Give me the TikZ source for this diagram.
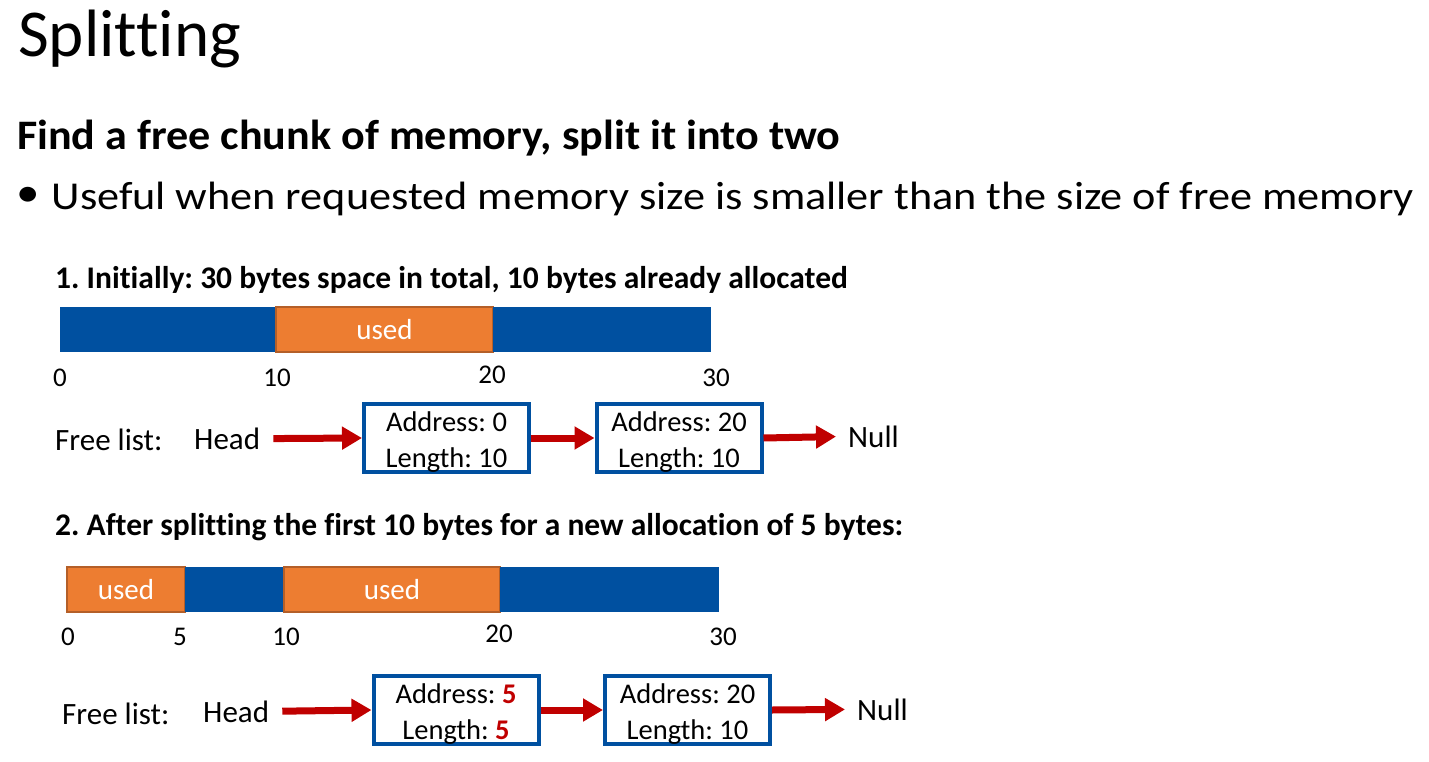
\documentclass[tikz,border=0pt]{standalone}
\usepackage{fontspec}
\setmainfont{Carlito}[Ligatures={NoCommon,NoContextual}]
\newfontfamily\headfont{Carlito}[Ligatures={NoCommon,NoContextual},FakeStretch=1.05]
\newfontfamily\bulletfont{Carlito}[Ligatures={NoCommon,NoContextual},FakeStretch=1.12]
\usetikzlibrary{arrows.meta}

\definecolor{memblue}{RGB}{0,80,160}
\definecolor{memorange}{RGB}{237,125,49}
\definecolor{orangeedge}{RGB}{180,95,40}
\definecolor{linkred}{RGB}{192,0,0}

\newcommand{\fs}[1]{\fontsize{#1}{#1}\selectfont}
% taller first line keeps the two rows of a list box slightly low
\newcommand{\boxstrut}{\rule{0pt}{27pt}}

\begin{document}
\frenchspacing
\begin{tikzpicture}[x=1pt,y=-1pt,
  seg/.style={inner sep=0pt, outer sep=0pt, anchor=north west,
    minimum height=45pt, text=white, font=\fs{29}},
  freeseg/.style={seg, fill=memblue},
  usedseg/.style={seg, fill=memorange, draw=orangeedge, line width=1.5pt},
  tick/.style={anchor=base, inner sep=0pt, font=\fs{27}},
  label/.style={anchor=base west, inner sep=0pt, font=\fs{31}},
  steplabel/.style={anchor=base west, inner sep=0pt, font=\bfseries\fs{31.5}},
  listbox/.style={draw=memblue, line width=4pt, minimum width=165pt,
    minimum height=68pt, align=center, inner sep=0pt,
    font=\fontsize{28.5}{36}\selectfont},
  link/.style={draw=linkred, line width=7pt,
    -{Triangle[length=20pt,width=22pt]}},
]
\useasboundingbox (0,0) rectangle (1429,762);

% headings
\node[anchor=base west, inner sep=0pt, font=\fs{67}] (title) at (18,57) {Splitting};
\node[anchor=base west, inner sep=0pt, font=\headfont\bfseries\fs{42}] (heading) at (17,149.3)
  {Find a free chunk of memory, split it into two};
\node[anchor=base west, inner sep=0pt, font=\bulletfont\fs{39.5}] (bullet) at (16,210)
  {{\fs{42}\raisebox{3pt}{\textbullet}}\hspace{12pt}Useful when requested memory size is smaller than the size of free memory};

% ---- step 1 ----
\node[steplabel] (s1) at (55,288)
  {1. Initially: 30 bytes space in total, 10 bytes already allocated};
\node[freeseg, minimum width=216pt] (a1) at (60,307) {};
\node[usedseg, minimum width=217pt] (a2) at (276,307) {used};
\node[freeseg, minimum width=218pt] (a3) at (493,307) {};

\node[tick] (t10) at (60,386) {0};
\node[tick] (t11) at (277,386) {10};
\node[tick] (t12) at (492,383) {20};
\node[tick] (t13) at (716,386) {30};

\node[label] (fl1) at (55,450) {Free list:};
\node[label] (head1) at (194,449.3) {Head};
\node[listbox] (b11) at (446.5,438) {\boxstrut Address: 0\\Length: 10};
\node[listbox] (b12) at (679,438) {\boxstrut Address: 20\\Length: 10};
\node[label] (null1) at (848,447) {Null};

\draw[link, shorten <=13pt] (head1.east) -- (b11.west);
\draw[link] (b11.east) -- (b12.west);
\draw[link, shorten >=12pt] (b12.east) -- (null1.west);

% ---- step 2 ----
\node[steplabel] (s2) at (55,535)
  {2. After splitting the first 10 bytes for a new allocation of 5 bytes:};
\node[usedseg, minimum width=118pt] (c1) at (67,567) {used};
\node[freeseg, minimum width=99pt] (c2) at (185,567) {};
\node[usedseg, minimum width=216pt] (c3) at (284,567) {used};
\node[freeseg, minimum width=219pt] (c4) at (500,567) {};

\node[tick] (t20) at (68,645) {0};
\node[tick] (t21) at (180,645) {5};
\node[tick] (t22) at (286,645) {10};
\node[tick] (t23) at (499,642) {20};
\node[tick] (t24) at (723,645) {30};

\node[label] (fl2) at (62,724.5) {Free list:};
\node[label] (head2) at (203,722) {Head};
\node[listbox, minimum height=66pt] (b21) at (456,710)
  {\boxstrut Address: \textcolor{linkred}{\textbf{5}}\\Length: \textcolor{linkred}{\textbf{5}}};
\node[listbox, minimum height=66pt] (b22) at (687.5,710) {\boxstrut Address: 20\\Length: 10};
\node[label] (null2) at (857,720) {Null};

\draw[link, shorten <=13pt] (head2.east) -- (b21.west);
\draw[link] (b21.east) -- (b22.west);
\draw[link, shorten >=12pt] (b22.east) -- (null2.west);
\end{tikzpicture}
\end{document}
